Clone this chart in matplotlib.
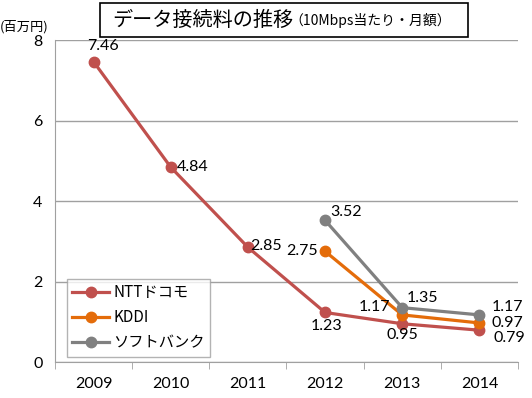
import matplotlib.pyplot as plt
from matplotlib.patches import Rectangle

plt.rcParams['font.family'] = ['Noto Sans CJK JP', 'DejaVu Sans']

years = ['2009', '2010', '2011', '2012', '2013', '2014']
ntt = [7.46, 4.84, 2.85, 1.23, 0.95, 0.79]
kddi = [2.75, 1.17, 0.97]
softbank = [3.52, 1.35, 1.17]
names = ['NTTドコモ', 'KDDI', 'ソフトバンク']
colors = ['#C0504D', '#E46C0A', '#808080']
num_font = ['Lato', 'DejaVu Sans']

# label offsets in points (dx, dy, ha)
ntt_off = [(7, 11, 'center'), (4, 0, 'left'), (2, 1, 'left'), (1, -10, 'center'), (0, -8, 'center'), (10, -5.5, 'left')]
kddi_off = [(-5, 0, 'right'), (-9, 6, 'right'), (9, 0, 'left')]
sb_off = [(4, 6, 'left'), (3, 7, 'left'), (9, 5.5, 'left')]

fig = plt.figure(figsize=(5.32, 3.98), dpi=100)
ax = fig.add_axes([55/532, 1-362/398, (518-55)/532, (362-40)/398])

x_ntt = list(range(len(years)))
x_late = [3, 4, 5]
series = [(x_ntt, ntt, ntt_off), (x_late, kddi, kddi_off), (x_late, softbank, sb_off)]
for (xs, ys, offs), name, c in zip(series, names, colors):
    ax.plot(xs, ys, color=c, lw=2.3, marker='o', ms=7.5, label=name, zorder=3)
    for x, y, (dx, dy, ha) in zip(xs, ys, offs):
        ax.annotate(f'{y:.2f}', (x, y), xytext=(dx, dy), textcoords='offset points',
                    ha=ha, va='center', fontsize=11.5, family=num_font)

ax.set_xlim(-0.5, 5.5)
ax.set_ylim(0, 8)
ax.set_yticks([0, 2, 4, 6, 8])
ax.set_xticks(range(len(years)))
ax.set_xticklabels(years, family=num_font)
ax.set_yticklabels(['0', '2', '4', '6', '8'], family=num_font)
ax.set_xticks([i - 0.5 for i in range(7)], minor=True)
ax.tick_params(axis='x', which='major', length=0, pad=11, labelsize=11.5)
ax.tick_params(axis='x', which='minor', length=5, color='#a0a0a0', direction='out')
ax.tick_params(axis='y', length=0, pad=9, labelsize=11.5)
ax.grid(axis='y', color='#a0a0a0', lw=1)
ax.set_axisbelow(True)
for s in ['top', 'right']:
    ax.spines[s].set_visible(False)
for s in ['left', 'bottom']:
    ax.spines[s].set_color('#a0a0a0')

leg = ax.legend(loc='lower left', bbox_to_anchor=(12/463, 5/322), fontsize=11,
                frameon=True, fancybox=False, edgecolor='#a0a0a0', borderpad=0.35,
                handlelength=2.4, labelspacing=0.55, handletextpad=0.3, borderaxespad=0)
leg.get_frame().set_linewidth(1)

fig.patches.append(Rectangle((100/532, 1-37/398), 368/532, 34/398, transform=fig.transFigure,
                             fill=False, edgecolor='black', lw=1.2))
fig.text(112/532, 1-20/398, 'データ接続料の推移', fontsize=14.5, va='center', ha='left')
fig.text(289/532, 1-21/398, '（10Mbps当たり・月額）', fontsize=10, va='center', ha='left')
fig.text(0, 1-27/398, '(百万円)', fontsize=9.5, va='center', ha='left')

fig.savefig('out.png', dpi=100)
